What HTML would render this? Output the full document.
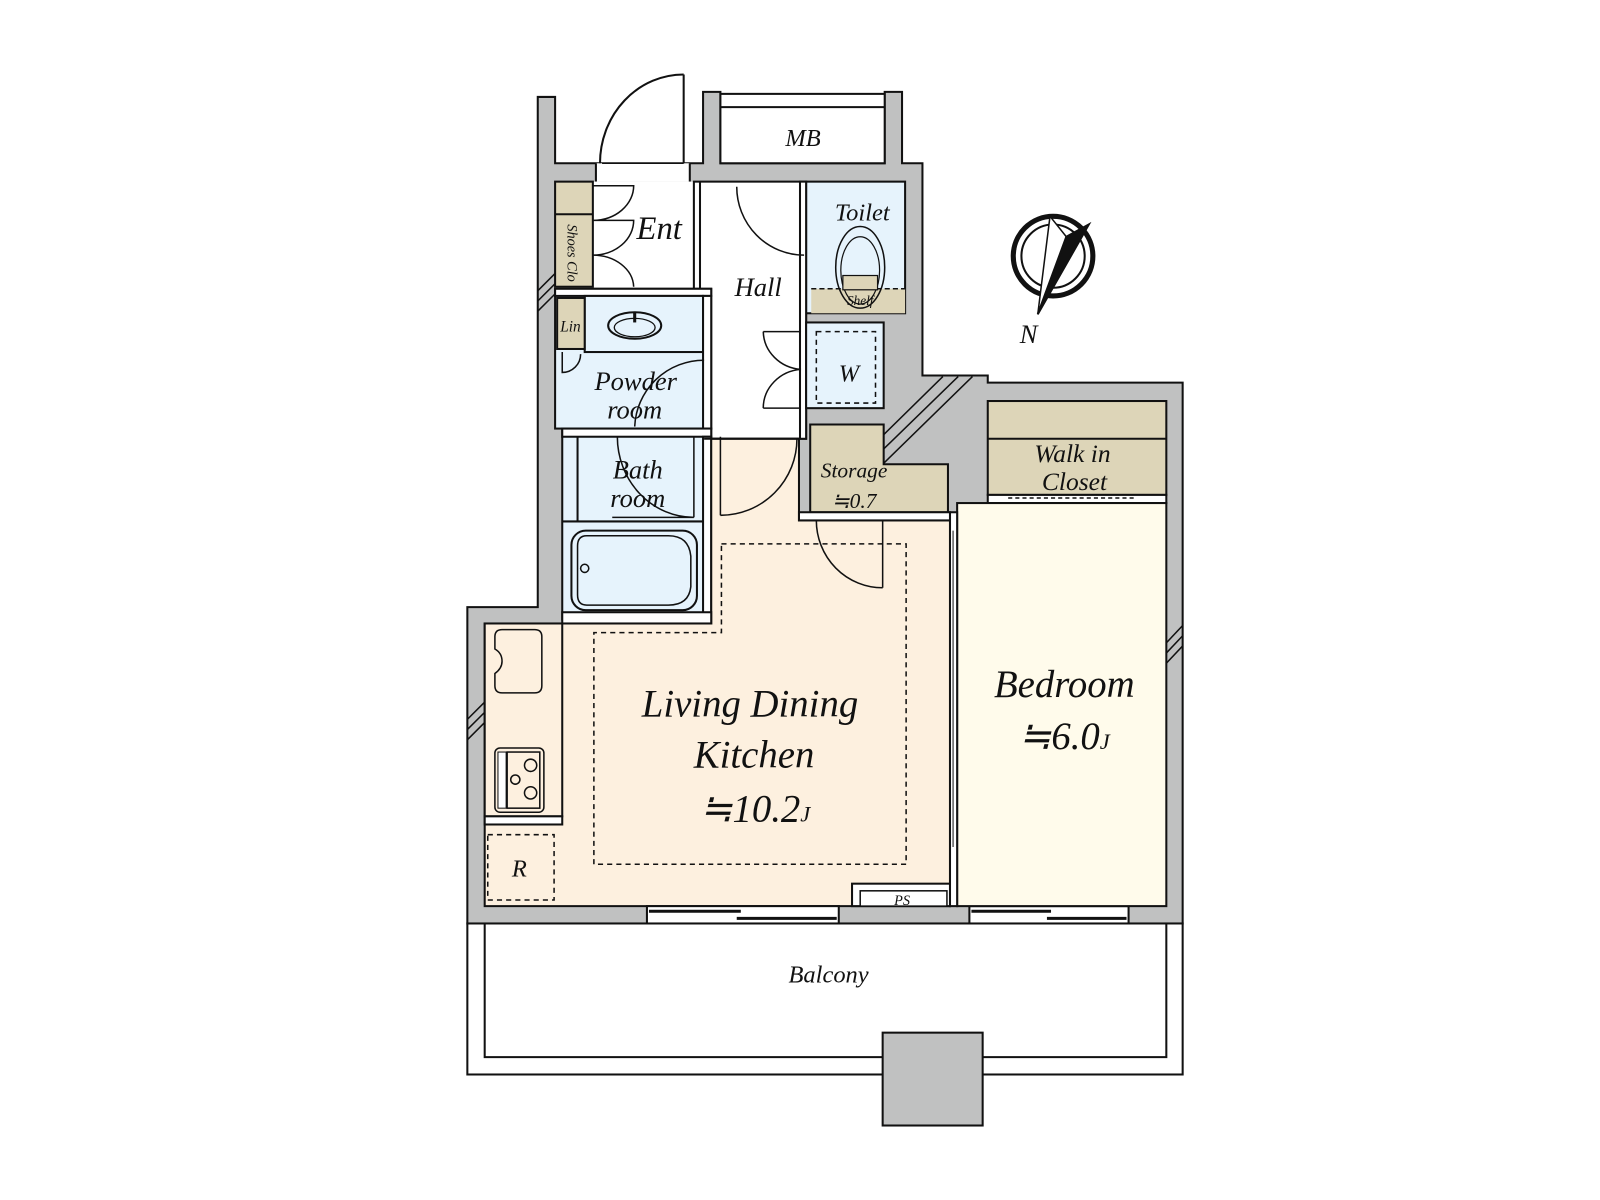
<!DOCTYPE html>
<html><head><meta charset="utf-8"><style>
html,body{margin:0;padding:0;background:#fff;}
svg{display:block;}
text{font-family:"Liberation Serif",serif;font-style:italic;fill:#111;text-anchor:middle;}
</style></head><body>
<svg width="1600" height="1200" viewBox="0 0 1568 1176" xmlns="http://www.w3.org/2000/svg">
<g stroke="#111" stroke-width="2" stroke-linejoin="miter">
<!-- footprint -->
<polygon fill="#c0c1c1" points="527,95 544,95 544,160 689,160 689,90 706,90 706,160 867,160 867,90 884,90 884,160 904,160 904,368 968,368 968,375 1159,375 1159,905 458,905 458,595 527,595"/>
<!-- balcony -->
<rect x="458" y="905" width="701" height="148" fill="#fff"/>
<polyline points="475,905 475,1036 1143,1036 1143,905" fill="none"/>
<rect x="865" y="1012" width="98" height="91" fill="#c0c1c1"/>
<!-- MB -->
<rect x="706" y="92" width="161" height="68" fill="#fff"/>
<line x1="706" y1="105" x2="867" y2="105"/>
<!-- entrance door opening -->
<rect x="584" y="160" width="92" height="18" fill="#fff" stroke="none"/>
<line x1="584" y1="160" x2="584" y2="178"/><line x1="676" y1="160" x2="676" y2="178"/>
<line x1="590" y1="160" x2="670" y2="160" stroke-width="1.5"/>
<line x1="670" y1="160" x2="670" y2="73"/>
<path d="M670,73 A82,87 0 0 0 588,160" fill="none"/>
<!-- Ent + hall white -->
<rect x="544" y="178" width="246" height="105" fill="#fff" stroke="none"/>
<rect x="680" y="178" width="110" height="252" fill="#fff"/>
<line x1="686" y1="178" x2="686" y2="283"/>
<!-- shoes closet -->
<rect x="544" y="178" width="37" height="103" fill="#ddd5b8"/>
<line x1="544" y1="210" x2="581" y2="210"/>
<!-- shoe doors -->
<path d="M581,182 L621,182 A40,34 0 0 1 581,216 M581,216 L621,216 A40,34 0 0 1 581,250 M581,250 A40,32 0 0 1 621,281" fill="none" stroke-width="1.5"/>
<!-- powder room -->
<rect x="544" y="283" width="153" height="137" fill="#e6f3fc"/>
<rect x="544" y="283" width="153" height="7" fill="#fff"/>
<rect x="573" y="290" width="116" height="55" fill="#e6f3fc"/>
<rect x="546" y="292" width="27" height="50" fill="#ddd5b8"/>
<ellipse cx="622" cy="319" rx="26" ry="13" fill="none"/><ellipse cx="622" cy="321" rx="20" ry="9" fill="none" stroke-width="1.3"/>
<line x1="622" y1="306" x2="622" y2="316" stroke-width="3"/>
<path d="M551,345 L551,365 A18,18 0 0 0 569,347" fill="none" stroke-width="1.5"/>
<rect x="689" y="290" width="8" height="130" fill="#fff"/>
<path d="M690,353 A68,68 0 0 0 622,418" fill="none" stroke-width="1.5"/>
<!-- bath -->
<rect x="551" y="420" width="146" height="187" fill="#e6f3fc"/>
<rect x="551" y="420" width="146" height="8" fill="#fff"/>
<line x1="566" y1="428" x2="566" y2="511"/><line x1="551" y1="511" x2="689" y2="511"/>
<rect x="689" y="428" width="8" height="179" fill="#fff"/>
<path d="M605,428 A75,79 0 0 0 680,507 L600,507" fill="none" stroke-width="1.5"/>
<line x1="680" y1="428" x2="680" y2="507" stroke-width="1.5"/>
<rect x="560" y="520" width="123" height="78" rx="14" fill="#e6f3fc"/>
<path d="M575,525 L655,525 Q675,525 677,545 L677,575 Q675,593 655,593 L575,593 Q566,593 566,583 L566,535 Q566,525 575,525Z" fill="none" stroke-width="1.5"/>
<circle cx="573" cy="557" r="4" fill="none" stroke-width="1.5"/>
<!-- LDK floor -->
<polygon fill="#fdf0df" points="475,611 697,611 697,430 783,430 783,510 931,510 931,888 475,888"/>
<rect x="551" y="600" width="146" height="11" fill="#fff"/>
<line x1="690" y1="430" x2="783" y2="430"/>
<line x1="706" y1="428" x2="706" y2="505" stroke-width="1.5"/>
<path d="M781,430 A75,75 0 0 1 706,505" fill="none" stroke-width="1.5"/>
<polygon fill="none" stroke-dasharray="5,4" stroke-width="1.5" points="707,533 888,533 888,847 582,847 582,620 707,620"/>
<!-- kitchen -->
<rect x="475" y="611" width="76" height="189" fill="#fdf0df"/>
<rect x="475" y="800" width="76" height="8" fill="#fff"/>
<path d="M492,617 L524,617 Q531,617 531,624 L531,672 Q531,679 524,679 L492,679 Q485,679 485,672 L485,660 Q492,655 492,648 Q492,640 485,636 L485,624 Q485,617 492,617Z" fill="#fdf0df" stroke-width="1.5"/>
<rect x="485" y="733" width="48" height="63" rx="5" fill="#fdf0df" stroke-width="1.5"/>
<rect x="488" y="737" width="8" height="55" fill="#fff" stroke-width="1"/>
<rect x="497" y="737" width="32" height="55" fill="none" stroke-width="1.5"/>
<circle cx="520" cy="750" r="6" fill="none" stroke-width="1.5"/><circle cx="520" cy="777" r="6" fill="none" stroke-width="1.5"/><circle cx="505" cy="764" r="4.5" fill="none" stroke-width="1.5"/>
<rect x="478" y="818" width="65" height="64" fill="none" stroke-dasharray="5,4" stroke-width="1.5"/>
<!-- PS -->
<rect x="835" y="866" width="96" height="22" fill="#fff"/>
<rect x="843" y="873" width="85" height="15" fill="#fff" stroke-width="1.5"/>
<!-- bottom windows -->
<rect x="634" y="888" width="188" height="17" fill="#fff"/>
<line x1="636" y1="893" x2="726" y2="893" stroke-width="3"/><line x1="722" y1="900" x2="820" y2="900" stroke-width="3"/>
<rect x="950" y="888" width="156" height="17" fill="#fff"/>
<line x1="952" y1="893" x2="1030" y2="893" stroke-width="3"/><line x1="1026" y1="900" x2="1104" y2="900" stroke-width="3"/>
<!-- toilet -->
<rect x="790" y="178" width="97" height="129" fill="#e6f3fc"/>
<rect x="795" y="283" width="92" height="24" fill="#ddd5b8" stroke="none"/>
<line x1="795" y1="283" x2="887" y2="283" stroke-dasharray="5,3" stroke-width="1.5"/>
<ellipse cx="843" cy="262" rx="24" ry="40" fill="none" stroke-width="1.5"/>
<ellipse cx="843" cy="265" rx="19" ry="33" fill="none" stroke-width="1.2"/>
<rect x="826" y="270" width="34" height="14" fill="#ddd5b8" stroke-width="1.2"/>
<rect x="784" y="178" width="6" height="252" fill="#fff"/>
<path d="M722,183 A66,67 0 0 0 788,250" fill="none" stroke-width="1.5"/>
<!-- W -->
<rect x="790" y="316" width="76" height="84" fill="#e6f3fc"/>
<rect x="800" y="325" width="58" height="70" fill="none" stroke-dasharray="5,4" stroke-width="1.5"/>
<path d="M748,325 A40,38 0 0 0 785,362 M748,400 A40,38 0 0 1 785,362" fill="none" stroke-width="1.5"/>
<line x1="748" y1="325" x2="785" y2="325" stroke-width="1.5"/><line x1="748" y1="400" x2="785" y2="400" stroke-width="1.5"/>
<!-- storage -->
<polygon fill="#ddd5b8" points="794,416 866,416 866,455 929,455 929,502 794,502"/>
<rect x="783" y="502" width="148" height="8" fill="#fff"/>
<line x1="865" y1="510" x2="865" y2="576" stroke-width="1.5"/>
<path d="M800,510 A65,66 0 0 0 865,576" fill="none" stroke-width="1.5"/>
<!-- diagonal window -->
<line x1="924" y1="369" x2="866" y2="426" stroke-width="1.5"/>
<line x1="939" y1="369" x2="866" y2="440" stroke-width="1.5"/>
<line x1="953" y1="369" x2="866" y2="454" stroke-width="1.5"/>
<!-- walk in -->
<rect x="968" y="393" width="175" height="92" fill="#ddd5b8"/>
<line x1="968" y1="430" x2="1143" y2="430"/>
<rect x="968" y="485" width="175" height="8" fill="#fff"/>
<line x1="988" y1="488" x2="1112" y2="488" stroke-dasharray="4,3" stroke-width="1.5"/>
<!-- bedroom -->
<rect x="938" y="493" width="205" height="395" fill="#fffbeb"/>
<rect x="931" y="502" width="7" height="386" fill="#fff"/>
<line x1="934" y1="520" x2="934" y2="830" stroke-width="1"/>
<!-- wall window marks -->
<g stroke-width="1.5">
<line x1="527" y1="285" x2="544" y2="268"/><line x1="527" y1="295" x2="544" y2="278"/><line x1="527" y1="305" x2="544" y2="288"/>
<line x1="458" y1="705" x2="475" y2="688"/><line x1="458" y1="715" x2="475" y2="698"/><line x1="458" y1="725" x2="475" y2="708"/>
<line x1="1143" y1="630" x2="1159" y2="613"/><line x1="1143" y1="640" x2="1159" y2="623"/><line x1="1143" y1="650" x2="1159" y2="633"/>
</g>
<!-- compass -->
<circle cx="1032" cy="251" r="39" fill="none" stroke-width="5"/>
<circle cx="1032" cy="251" r="31" fill="none" stroke-width="2"/>
<polygon points="1029,212 1045,232 1067,220 1017,308" fill="#fff" stroke-width="1.5"/>
<polygon points="1045,232 1067,220 1017,308" fill="#111"/>
</g>
<g>
<text x="787" y="143" font-size="24">MB</text>
<text x="646" y="234" font-size="32">Ent</text>
<text x="743" y="290" font-size="26">Hall</text>
<text x="845" y="216" font-size="24">Toilet</text>
<text x="843" y="299" font-size="13">Shelf</text>
<text transform="translate(556,248) rotate(90)" font-size="14">Shoes Clo</text>
<text x="559" y="325" font-size="15">Lin</text>
<text x="623" y="382" font-size="26">Powder</text>
<text x="622" y="410" font-size="26">room</text>
<text x="832" y="374" font-size="24">W</text>
<text x="625" y="469" font-size="26">Bath</text>
<text x="625" y="497" font-size="26">room</text>
<text x="837" y="468" font-size="21">Storage</text>
<text x="837" y="498" font-size="21">≒0.7</text>
<text x="1051" y="453" font-size="25">Walk in</text>
<text x="1053" y="480" font-size="25">Closet</text>
<text x="735" y="702" font-size="38">Living Dining</text>
<text x="739" y="752" font-size="38">Kitchen</text>
<text x="740" y="805" font-size="38">≒10.2<tspan font-size="22">J</tspan></text>
<text x="1043" y="683" font-size="38">Bedroom</text>
<text x="1043" y="734" font-size="38">≒6.0<tspan font-size="22">J</tspan></text>
<text x="509" y="859" font-size="24">R</text>
<text x="884" y="887" font-size="14">PS</text>
<text x="812" y="963" font-size="24">Balcony</text>
<text x="1008" y="336" font-size="26">N</text>
</g>
</svg>
</body></html>
